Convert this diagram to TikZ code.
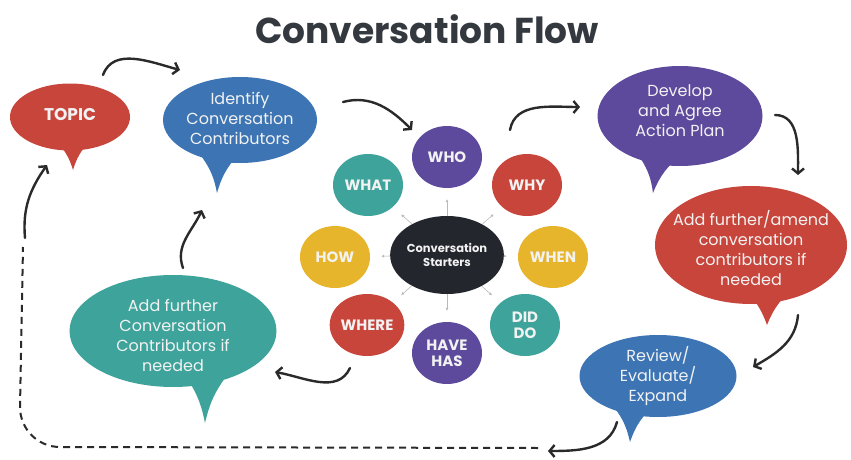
\documentclass[tikz,border=0pt]{standalone}
\usepackage{fontspec}
\setmainfont{Poppins}
\usetikzlibrary{shapes.geometric,arrows.meta,calc}
\definecolor{cred}{HTML}{C8453B}
\definecolor{cblue}{HTML}{3C74B4}
\definecolor{cpurple}{HTML}{5D4A9C}
\definecolor{cteal}{HTML}{3EA49B}
\definecolor{cyellow}{HTML}{E7B52C}
\definecolor{cdark}{HTML}{24262E}
\definecolor{ctitle}{HTML}{34393F}
\definecolor{carrow}{HTML}{2A2A2A}
\definecolor{btxt}{HTML}{F2F2F2}
\tikzset{
  bubble/.style={ellipse, fill=#1, inner sep=0pt},
  btext/.style={text=btxt, align=center, inner sep=0pt, font=\fontsize{16}{20}\selectfont},
  circ/.style={ellipse, fill=#1, minimum width=70pt, minimum height=62pt, inner sep=0pt,
    text=btxt, align=center, font=\bfseries\fontsize{15}{16}\selectfont},
  flow/.style={line width=2.4pt, draw=carrow, line cap=round,
    -{Straight Barb[length=5pt,width=12pt]}},
  dashline/.style={line width=2pt, draw=carrow, dash pattern=on 7pt off 5pt},
  spoke/.style={draw=gray!55, line width=0.6pt, -{Latex[length=3pt,width=3pt]}},
}
\newcommand{\bubtail}[4]{\fill[#1] (#2) to[bend left=12] (#4) to[bend left=12] (#3) -- cycle;}
\begin{document}
\begin{tikzpicture}[x=1pt,y=1pt]
\useasboundingbox[fill=white] (0,0) rectangle (851,459);

% title
\node[text=ctitle, font=\bfseries\fontsize{36}{40}\selectfont] (title) at (427,430) {Conversation Flow};

% speech bubbles
\node[bubble=cred, minimum width=120pt, minimum height=67pt] (topic) at (70,342) {};
\node[bubble=cblue, minimum width=154pt, minimum height=86pt] (ident) at (240,339) {};
\node[bubble=cpurple, minimum width=165pt, minimum height=100pt] (develop) at (680,343) {};
\node[bubble=cred, minimum width=192pt, minimum height=118pt] (amend) at (751,214) {};
\node[bubble=cblue, minimum width=157pt, minimum height=82pt] (review) at (658,83) {};
\node[bubble=cteal, minimum width=207pt, minimum height=112pt] (addc) at (173,128) {};

% tails
\coordinate (tt1) at (58,316); \coordinate (tt2) at (88,316); \coordinate (ttip) at (73,289);
\bubtail{cred}{tt1}{tt2}{ttip}
\coordinate (it1) at (202,302); \coordinate (it2) at (236,302); \coordinate (itip) at (217,266);
\bubtail{cblue}{it1}{it2}{itip}
\coordinate (dt1) at (641,300); \coordinate (dt2) at (676,300); \coordinate (dtip) at (653,266);
\bubtail{cpurple}{dt1}{dt2}{dtip}
\coordinate (at1) at (746,168); \coordinate (at2) at (790,168); \coordinate (atip) at (767,134);
\bubtail{cred}{at1}{at2}{atip}
\coordinate (rt1) at (614,52); \coordinate (rt2) at (650,50); \coordinate (rtip) at (630,17);
\bubtail{cblue}{rt1}{rt2}{rtip}
\coordinate (ct1) at (184,85); \coordinate (ct2) at (228,85); \coordinate (ctip) at (205,36);
\bubtail{cteal}{ct1}{ct2}{ctip}

% bubble texts
\node[btext, font=\bfseries\fontsize{17}{19}\selectfont] (topict) at ([yshift=2pt]topic.center) {TOPIC};
\node[btext] (identt) at ([yshift=2pt]ident.center) {Identify\\Conversation\\Contributors};
\node[btext] (developt) at ([yshift=5pt]develop.center) {Develop\\and Agree\\Action Plan};
\node[btext] (amendt) at ([yshift=-3pt]amend.center) {Add further/amend\\conversation\\contributors if\\needed};
\node[btext] (reviewt) at (review) {Review/\\Evaluate/\\Expand};
\node[btext] (addct) at ([yshift=-4pt]addc.center) {Add further\\Conversation\\Contributors if\\needed};

% conversation starters
\node[circ=cdark, minimum width=88pt, minimum height=78pt, font=\bfseries\fontsize{11.5}{14}\selectfont] (cs) at (447,204) {Conversation\\Starters};
\node[circ=cpurple] (who) at (447,302) {WHO};
\node[circ=cred] (why) at (527,274) {WHY};
\node[circ=cteal] (what) at (368,274) {WHAT};
\node[circ=cyellow] (how) at (335,202) {HOW};
\node[circ=cyellow] (when) at (553,202) {WHEN};
\node[circ=cred] (where) at (367,134) {WHERE};
\node[circ=cteal] (diddo) at (525,134) {DID\\DO};
\node[circ=cpurple] (have) at (447,106) {HAVE\\HAS};

\foreach \t in {who,why,what,how,when,where,diddo,have}
  \draw[spoke, shorten >=11pt] (cs) -- (\t);

% flow arrows
\coordinate (a1s) at (103,384); \coordinate (a1e) at (180,389);
\coordinate (a2s) at (343,357); \coordinate (a2e) at (412,329);
\coordinate (a3s) at (510,329); \coordinate (a3e) at (580,352);
\coordinate (a4s) at (775,344); \coordinate (a4e) at (798,284);
\coordinate (a5s) at (798,144); \coordinate (a5e) at (753,92);
\coordinate (a6s) at (617,37);  \coordinate (a6e) at (548,8);
\coordinate (a8s) at (25,221);  \coordinate (a8e) at (47,294);
\coordinate (a9s) at (183,191); \coordinate (a9e) at (202,249);
\coordinate (a10s) at (350,91); \coordinate (a10e) at (275,87);
\coordinate (d1) at (538,11); \coordinate (d2) at (60,12); \coordinate (d3) at (20,52); \coordinate (d4) at (23,212);

\draw[flow] (a1s) to[out=70,in=165] (a1e);
\draw[flow] (a2s) to[out=15,in=135] (a2e);
\draw[flow] (a3s) to[out=80,in=180] (a3e);
\draw[flow] (a4s) to[out=0,in=90] (a4e);
\draw[flow] (a5s) to[out=-95,in=30] (a5e);
\draw[flow] (a6s) to[out=-105,in=0] (a6e);
\draw[dashline] (d1) -- (d2) to[out=180,in=-90] (d3) -- (d4);
\draw[flow] (a8s) to[out=95,in=235] (a8e);
\draw[flow] (a9s) to[out=110,in=245] (a9e);
\draw[flow] (a10s) to[out=-115,in=-10] (a10e);
\end{tikzpicture}
\end{document}
